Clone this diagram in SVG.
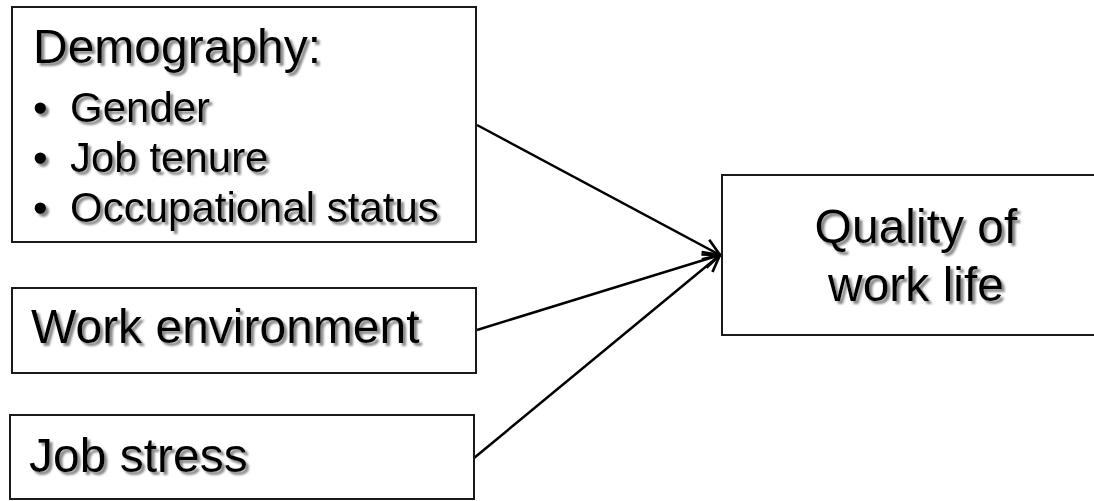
<svg xmlns="http://www.w3.org/2000/svg" width="1094" height="501" viewBox="0 0 1094 501">
  <style>
    .box { fill: #ffffff; stroke: #1a1a1a; stroke-width: 2; }
    .lbl { font-family: "Liberation Sans", Arial, sans-serif; fill: #000000; filter: url(#shadow); }
    .big { font-size: 48px; }
    .item { font-size: 42px; }
    .link { stroke: #000000; stroke-width: 2.5; fill: none; marker-end: url(#open); }
  </style>
  <defs>
    <!-- soft grey drop shadow behind all labels -->
    <filter id="shadow" x="-10%" y="-30%" width="130%" height="170%">
      <feDropShadow dx="3" dy="3" stdDeviation="1.2" flood-color="#7a7a7a" flood-opacity="0.9"/>
    </filter>
    <!-- open V arrowhead -->
    <marker id="open" viewBox="0 0 12 12" refX="11" refY="6" markerWidth="8" markerHeight="8" markerUnits="strokeWidth" orient="auto">
      <path d="M1,1 L11,6 L1,11" fill="none" stroke="#000000" stroke-width="1.6"/>
    </marker>
  </defs>
  <rect width="1094" height="501" fill="#ffffff"/>

  <g id="connectors">
    <line class="link" x1="477" y1="125" x2="720" y2="255"/>
    <line class="link" x1="477" y1="330" x2="720" y2="255"/>
    <line class="link" x1="474" y1="458" x2="720" y2="255"/>
  </g>

  <g id="demography">
    <rect class="box" x="12" y="7" width="464" height="235"/>
    <text class="lbl big" x="33" y="63">Demography:</text>
    <text class="lbl item" x="33" y="122">•</text>
    <text class="lbl item" x="70" y="122">Gender</text>
    <text class="lbl item" x="33" y="172">•</text>
    <text class="lbl item" x="70" y="172">Job tenure</text>
    <text class="lbl item" x="33" y="222">•</text>
    <text class="lbl item" x="70" y="222">Occupational status</text>
  </g>

  <g id="work-environment">
    <rect class="box" x="12" y="288" width="464" height="85"/>
    <text class="lbl big" x="31" y="343">Work environment</text>
  </g>

  <g id="job-stress">
    <rect class="box" x="10" y="415" width="464" height="84"/>
    <text class="lbl big" x="29" y="472">Job stress</text>
  </g>

  <g id="quality-of-work-life">
    <rect class="box" x="722" y="175" width="390" height="160"/>
    <text class="lbl big" x="916" y="243" text-anchor="middle">Quality of</text>
    <text class="lbl big" x="916" y="301" text-anchor="middle">work life</text>
  </g>
</svg>
